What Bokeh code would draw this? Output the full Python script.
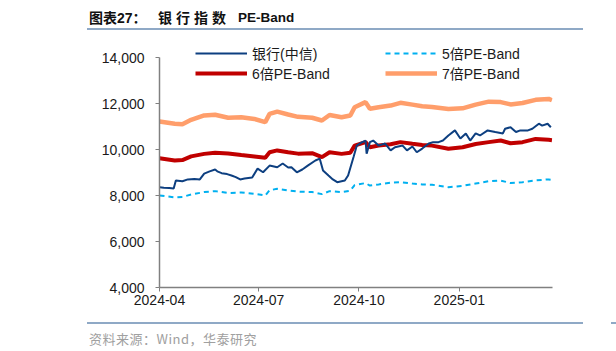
import pandas as pd
from bokeh.plotting import figure
from bokeh.models import (Range1d, FixedTicker, DatetimeTickFormatter, Legend, LegendItem,
                          NumeralTickFormatter, Div, InlineStyleSheet)
from bokeh.layouts import column
from bokeh.embed import file_html
from bokeh.resources import INLINE

# ---------------- data ----------------
bank_dates = ["2024-04-01", "2024-04-05", "2024-04-10", "2024-04-14", "2024-04-16", "2024-04-22",
              "2024-04-27", "2024-05-03", "2024-05-08", "2024-05-12", "2024-05-17", "2024-05-22",
              "2024-05-24", "2024-05-28", "2024-06-02", "2024-06-06", "2024-06-10", "2024-06-14",
              "2024-06-18", "2024-06-25", "2024-06-30", "2024-07-05", "2024-07-11", "2024-07-18",
              "2024-07-23", "2024-07-28", "2024-07-31", "2024-08-05", "2024-08-10", "2024-08-15",
              "2024-08-22", "2024-08-26", "2024-08-29", "2024-09-03", "2024-09-07", "2024-09-11",
              "2024-09-18", "2024-09-21", "2024-09-26", "2024-09-29", "2024-10-03", "2024-10-07",
              "2024-10-08", "2024-10-11", "2024-10-14", "2024-10-19", "2024-10-25", "2024-10-30",
              "2024-11-03", "2024-11-10", "2024-11-14", "2024-11-19", "2024-11-23", "2024-11-28",
              "2024-12-04", "2024-12-08", "2024-12-13", "2024-12-17", "2024-12-22", "2024-12-28",
              "2025-01-02", "2025-01-07", "2025-01-11", "2025-01-16", "2025-01-20", "2025-01-27",
              "2025-02-03", "2025-02-10", "2025-02-12", "2025-02-17", "2025-02-22", "2025-02-26",
              "2025-03-05", "2025-03-09", "2025-03-15", "2025-03-18", "2025-03-23", "2025-03-26"]
bank_values = [8360, 8340, 8330, 8300, 8650, 8620,
               8700, 8720, 8700, 8950, 9050, 9130,
               9050, 8970, 8930, 8870, 8800, 8700,
               8740, 8780, 9170, 9010, 9300, 9230,
               9390, 9220, 9230, 9010, 9130, 9300,
               9520, 9600, 9090, 8870, 8700, 8580,
               8650, 8870, 9670, 10170, 10300, 10390,
               9820, 10320, 10390, 10170, 10260, 9960,
               10100, 10170, 9960, 10130, 9880, 10040,
               10260, 10320, 10320, 10390, 10610, 10830,
               10480, 10700, 10390, 10700, 10610, 10830,
               10760, 10700, 10900, 10970, 10760, 10830,
               10830, 10900, 11120, 11040, 11120, 10970]

band_dates = ["2024-04-01", "2024-04-15", "2024-04-22", "2024-04-30", "2024-05-12", "2024-05-22",
              "2024-06-03", "2024-06-15", "2024-06-27", "2024-07-07", "2024-07-11", "2024-07-18",
              "2024-07-28", "2024-08-06", "2024-08-19", "2024-08-28", "2024-09-04", "2024-09-15",
              "2024-09-23", "2024-09-27", "2024-10-07", "2024-10-11", "2024-10-19", "2024-10-30",
              "2024-11-08", "2024-11-19", "2024-11-28", "2024-12-07", "2024-12-22", "2025-01-04",
              "2025-01-16", "2025-01-28", "2025-02-08", "2025-02-17", "2025-02-28", "2025-03-12",
              "2025-03-24", "2025-03-27"]
pe5_values = [8000, 7920, 7940, 8040, 8150, 8190,
              8110, 8130, 8070, 8000, 8230, 8290,
              8220, 8170, 8150, 8060, 8190, 8150,
              8210, 8450, 8540, 8430, 8480, 8560,
              8580, 8520, 8480, 8470, 8360, 8420,
              8520, 8620, 8650, 8540, 8580, 8660,
              8700, 8680]
pe6_values = [9620, 9520, 9540, 9700, 9810, 9860,
              9830, 9760, 9700, 9640, 9880, 9960,
              9880, 9820, 9840, 9670, 9880, 9810,
              9860, 10170, 10320, 10100, 10170, 10230,
              10320, 10250, 10200, 10170, 10030, 10100,
              10240, 10320, 10390, 10270, 10320, 10460,
              10420, 10400]
pe7_values = [11220, 11120, 11100, 11290, 11480, 11510,
              11380, 11400, 11330, 11190, 11550, 11650,
              11520, 11420, 11380, 11260, 11500, 11400,
              11480, 11840, 12060, 11770, 11840, 11910,
              12030, 11950, 11880, 11850, 11760, 11790,
              11950, 12080, 12060, 11960, 12020, 12160,
              12200, 12140]

series_names = ["银行(中信)", "5倍PE-Band", "6倍PE-Band", "7倍PE-Band"]
x_tick_dates = ["2024-04-01", "2024-07-01", "2024-10-01", "2025-01-01"]
y_ticks = [4000, 6000, 8000, 10000, 12000, 14000]
title_parts = ["图表27：", "银行指数", "PE-Band"]
source_text = "资料来源：Wind，华泰研究"

# ---------------- layout ----------------
W, H = 616, 351
TITLE_H, RULE_H, BOT_H = 28, 3, 35
TOP_H = TITLE_H + RULE_H
PLOT_H = H - TOP_H - BOT_H
FONT = "Liberation Sans, Arial, Noto Sans CJK SC"
RULE = "#8FA9C6"

div_css = InlineStyleSheet(css=":host{overflow:visible !important;position:relative;z-index:10;} "
                               ".bk-clearfix{display:block !important;line-height:0 !important;}")

title_div = Div(
    text=(f'<div style="position:relative;display:block;width:{W}px;height:{TITLE_H}px;">'
          f'<span style="position:absolute;left:89px;top:8px;white-space:pre;font-family:{FONT};'
          f'font-size:14px;font-weight:bold;line-height:20px;color:#111">{title_parts[0]}</span>'
          f'<span style="position:absolute;left:158px;top:8px;white-space:pre;font-family:{FONT};'
          f'font-size:14px;font-weight:bold;letter-spacing:4px;line-height:20px;color:#111">{title_parts[1]}</span>'
          f'<span style="position:absolute;left:238px;top:8px;white-space:pre;font-family:{FONT};'
          f'font-size:13.5px;font-weight:bold;line-height:20px;color:#111">{title_parts[2]}</span>'
          f'</div>'),
    width=W, height=TITLE_H, margin=0, stylesheets=[div_css])

# the rule under the title, as its own block
rule_div = Div(text="", width=496, height=2, margin=(0, 0, 1, 87),
               styles={"background-color": RULE})

source_div = Div(
    text=(f'<div style="position:relative;display:block;width:{W}px;height:{BOT_H}px;">'
          f'<div style="position:absolute;left:87px;top:6px;width:496px;height:2px;background:{RULE}"></div>'
          f'<div style="position:absolute;left:611px;top:6px;width:5px;height:2px;background:{RULE}"></div>'
          f'<span style="position:absolute;left:89px;top:14px;white-space:pre;letter-spacing:0.5px;'
          f'font-family:Noto Sans CJK SC, sans-serif;font-size:13px;line-height:18px;color:#a0a0a0">'
          f'{source_text}</span>'
          f'</div>'),
    width=W, height=BOT_H, margin=0, stylesheets=[div_css])

bd = pd.to_datetime(bank_dates)
pd_ = pd.to_datetime(band_dates)

# frame: left 159, 14,000 at page y 57, 4,000 at page y 287; frame extended upward to hold the legend
p = figure(width=W, height=PLOT_H, x_axis_type="datetime", output_backend="svg",
           toolbar_location=None, min_border_left=159, min_border_right=64,
           min_border_top=3, min_border_bottom=PLOT_H - (287 - TOP_H),
           x_range=Range1d(pd.Timestamp("2024-04-01"), pd.Timestamp("2025-03-27 12:00")),
           y_range=Range1d(4000, 15000), margin=0)
p.outline_line_color = None
p.grid.visible = False
p.background_fill_alpha = 0
p.border_fill_alpha = 0

r7 = p.line(pd_, pe7_values, line_color="#FF9E6B", line_width=4.5)
r6 = p.line(pd_, pe6_values, line_color="#C00000", line_width=4)
r5 = p.line(pd_, pe5_values, line_color="#00B0F0", line_width=2, line_dash="5 4")
rb = p.line(bd, bank_values, line_color="#0D3F80", line_width=2)

for ax in (p.xaxis[0], p.yaxis[0]):
    ax.axis_line_color = "#808080"
    ax.axis_line_width = 1.5
    ax.major_tick_line_color = "#808080"
    ax.major_tick_line_width = 1
    ax.minor_tick_line_color = None
    ax.major_tick_in = 0
    ax.major_label_text_font = FONT
    ax.major_label_text_font_size = "14px"
    ax.major_label_text_color = "#1a1a1a"

p.yaxis[0].ticker = FixedTicker(ticks=y_ticks)
p.yaxis[0].bounds = (4000, 14000)
p.yaxis[0].formatter = NumeralTickFormatter(format="0,0")
p.yaxis[0].major_tick_out = 4
p.yaxis[0].major_label_standoff = 11

p.xaxis[0].ticker = FixedTicker(ticks=[pd.Timestamp(d).value / 1e6 for d in x_tick_dates])
p.xaxis[0].formatter = DatetimeTickFormatter(months="%Y-%m", days="%Y-%m", years="%Y-%m")
p.xaxis[0].major_tick_out = 4
p.xaxis[0].major_label_standoff = 3

legend = Legend(items=[LegendItem(label=series_names[0], renderers=[rb]),
                       LegendItem(label=series_names[2], renderers=[r6]),
                       LegendItem(label=series_names[1], renderers=[r5]),
                       LegendItem(label=series_names[3], renderers=[r7])],
                ncols=2, location=(36, 204), orientation="vertical")
legend.background_fill_alpha = 0
legend.border_line_color = None
legend.label_text_font = FONT
legend.label_text_font_size = "14px"
legend.label_text_line_height = 1.0
legend.label_text_color = "#1a1a1a"
legend.glyph_width = 52
legend.glyph_height = 14
legend.label_height = 14
legend.label_width = 133
legend.label_standoff = 5
legend.spacing = 0
legend.padding = 0
legend.margin = 0
p.add_layout(legend)

layout = column(title_div, rule_div, p, source_div, spacing=0, margin=0)
open("out.html", "w").write(file_html(layout, INLINE))
